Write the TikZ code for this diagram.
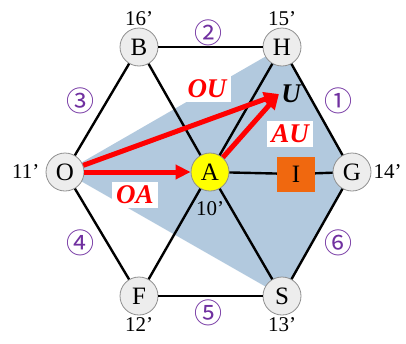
\documentclass[tikz,border=0pt]{standalone}
\usepackage{fontspec}
\setmainfont{Liberation Serif}
\newfontfamily\ringfont{Noto Sans CJK JP}
\usetikzlibrary{arrows.meta,positioning,backgrounds}
\definecolor{Sky}{HTML}{B2C9DE}
\definecolor{Vector}{HTML}{FF0000}
\definecolor{Violet}{HTML}{7030A0}
\definecolor{Pearl}{HTML}{EDEDED}
\definecolor{Rim}{HTML}{8F8F8F}
\definecolor{Lemon}{HTML}{FFFF00}
\definecolor{Rust}{HTML}{F0680F}
\tikzset{
  vtx/.style={circle,draw=Rim,fill=Pearl,line width=.8pt,minimum size=38pt,inner sep=0pt,font=\fontsize{25}{25}\selectfont},
  hub/.style={vtx,fill=Lemon},
  slot/.style={draw=none,fill=Rust,minimum width=38pt,minimum height=35pt,inner sep=0pt,font=\fontsize{25}{25}\selectfont},
  side/.style={draw=black,line width=2.4pt},
  vec/.style={-{Triangle[length=15pt,width=14pt]},draw=Vector,line width=5pt},
  veclabel/.style={fill=white,text=Vector,font=\fontsize{27}{27}\selectfont\bfseries\itshape,inner xsep=4pt,inner ysep=4pt},
  prime/.style={font=\fontsize{21}{21}\selectfont,inner sep=1pt},
  seg/.style={text=Violet,font=\ringfont\fontsize{28}{28}\selectfont,inner sep=0pt}
}
\begin{document}
\begin{tikzpicture}[x=1pt,y=-1pt,node distance=2pt]
  \useasboundingbox (0,0) rectangle (406,343);
  % corners of the hexagon, A in the middle
  \node[hub] (A) at (210,172) {A};
  \node[vtx] (O) at (65,172) {O};
  \node[vtx] (G) at (352,172) {G};
  \node[vtx] (B) at (139,47) {B};
  \node[vtx] (H) at (282,47) {H};
  \node[vtx] (F) at (139,296) {F};
  \node[vtx] (S) at (282,296) {S};
  \node[slot] (I) at (296,174) {I};
  % primed labels
  \node[prime,above=1pt of B] (bp) {16'};
  \node[prime,above=1pt of H] (hp) {15'};
  \node[prime,left=5pt of O] (op) {11'};
  \node[prime,right=1pt of G] (gp) {14'};
  \node[prime,below=1pt of F] (fp) {12'};
  \node[prime,below=1pt of S] (sp) {13'};
  \node[prime,below=9pt of A] (ap) {10'};
  % numbered sides
  \node[seg] (s1) at (338,101) {①};
  \node[seg] (s2) at (208,33) {②};
  \node[seg] (s3) at (80,101) {③};
  \node[seg] (s4) at (80,243) {④};
  \node[seg] (s5) at (208,313) {⑤};
  \node[seg] (s6) at (338,243) {⑥};
  \begin{scope}[on background layer]
    \fill[Sky] (O.center) -- (H.center) -- (G.center) -- (S.center) -- cycle;
  \end{scope}
  \draw[side] (O) -- (B);
  \draw[side] (B) -- (H);
  \draw[side] (H) -- (G);
  \draw[side] (G) -- (S);
  \draw[side] (S) -- (F);
  \draw[side] (F) -- (O);
  \draw[side] (B) -- (A);
  \draw[side] (A) -- (S);
  \draw[side] (H) -- (A);
  \draw[side] (A) -- (F);
  \draw[side] (A) -- (I);
  \draw[side] (I) -- (G);
  % vectors
  \coordinate (tip) at (279,94);
  \node[font=\fontsize{27}{27}\selectfont\bfseries\itshape,inner sep=0pt] (U) at (291,94) {U};
  \draw[vec] (O) -- (A);
  \draw[vec] (O) -- (tip);
  \draw[vec] (A) -- (tip);
  \node[veclabel] (OU) at (207,89) {OU};
  \node[veclabel] (AU) at (290,134) {AU};
  \node[veclabel] (OA) at (135,195) {OA};
\end{tikzpicture}
\end{document}
